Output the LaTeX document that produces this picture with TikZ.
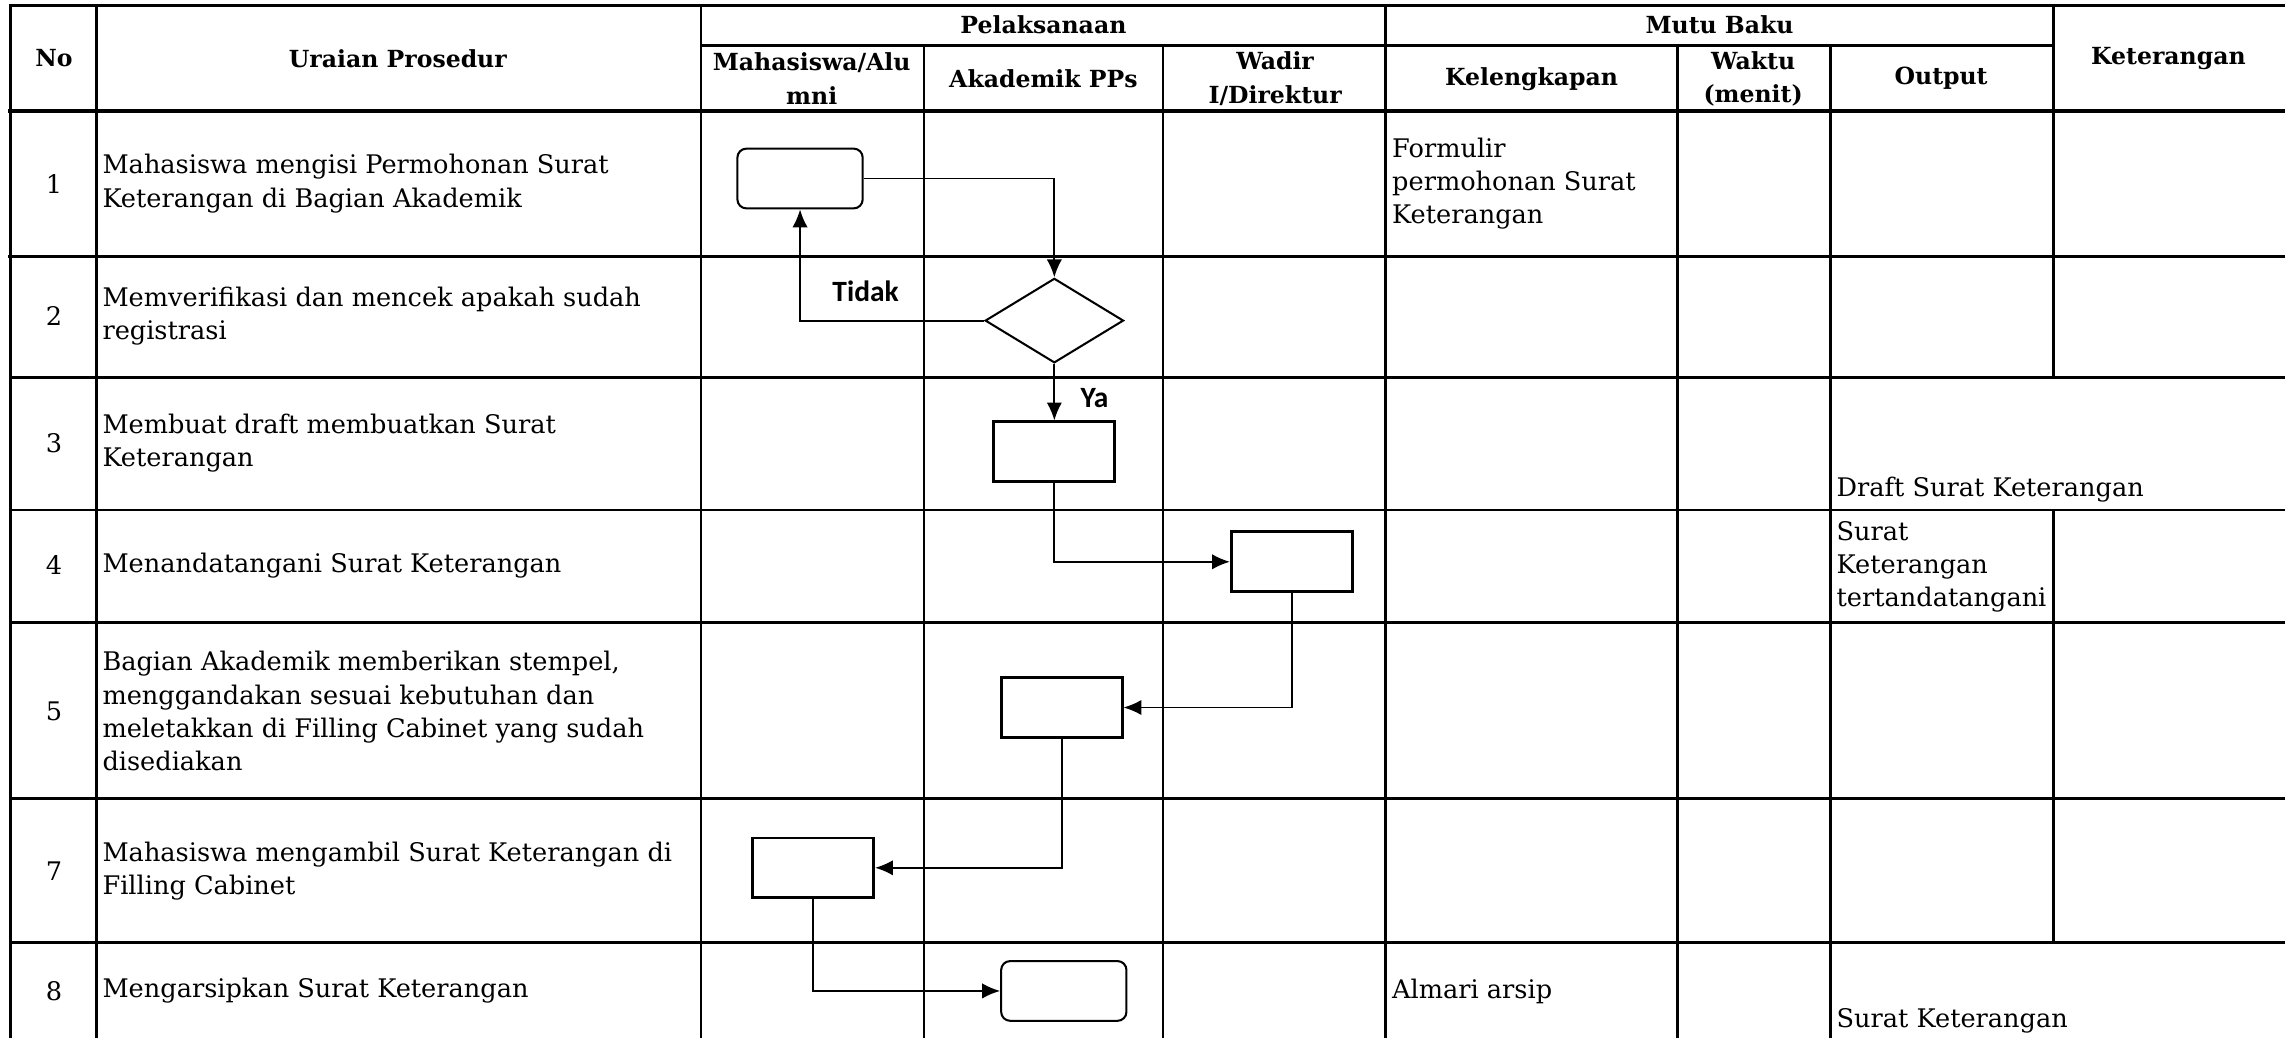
\documentclass[tikz,border=0pt]{standalone}
\usepackage{fontspec}
\setmainfont{DejaVu Serif}
\newfontfamily\labelfont{Carlito}
\usetikzlibrary{shapes.geometric,arrows.meta}

\begin{document}
\begin{tikzpicture}[x=0.02cm, y=-0.02cm,
        grid/.style={line width=1.1pt, line cap=rect},
        heavy/.style={line width=1.5pt, line cap=rect},
        head/.style={font=\fontsize{9.2}{13}\selectfont\bfseries, align=center},
        num/.style={font=\fontsize{10}{13}\selectfont},
        body/.style={font=\fontsize{10}{13}\selectfont, align=left, anchor=west, inner sep=0pt},
        proc/.style={draw, line width=1.1pt, minimum width=1.66cm, minimum height=0.82cm, inner sep=0pt},
        term/.style={proc, rounded corners=3.5pt, line width=0.8pt, minimum width=1.72cm},
        decision/.style={draw, diamond, line width=0.8pt, minimum width=1.9cm, minimum height=1.16cm, inner sep=0pt},
        flow/.style={line width=0.75pt, -{Latex[length=7pt,width=6pt]}},
        yesno/.style={font=\labelfont\bfseries\fontsize{11.5}{13}\selectfont}]
    \useasboundingbox (0,0) rectangle (1568,712);

    % Table lines
    \draw[grid] (7,4) -- (1575,4);
    \draw[grid] (481,31) -- (1409,31);
    \draw[heavy] (7,76) -- (1575,76);
    \draw[heavy] (7,176) -- (1575,176);
    \foreach \y in {259,350,427,548,647}
        \draw[grid] (7,\y) -- (1575,\y);
    \foreach \x in {7,66,481,951}
        \draw[grid] (\x,4) -- (\x,720);
    \foreach \x in {634,798,1151,1256}
        \draw[grid] (\x,31) -- (\x,720);
    \draw[grid] (1409,4) -- (1409,259) (1409,350) -- (1409,647);

    % Header
    \node[head] (hno) at (37,40) {No};
    \node[head] (huraian) at (273,40) {Uraian Prosedur};
    \node[head] (hpelaksanaan) at (716,17) {Pelaksanaan};
    \node[head] (hmhs) at (557,54) {Mahasiswa/Alu\\mni};
    \node[head] (hakd) at (716,54) {Akademik PPs};
    \node[head] (hwadir) at (875,54) {Wadir\\I/Direktur};
    \node[head] (hmutu) at (1180,17) {Mutu Baku};
    \node[head] (hkel) at (1051,54) {Kelengkapan};
    \node[head] (hwaktu) at (1203,54) {Waktu\\(menit)};
    \node[head] (hout) at (1332,54) {Output};
    \node[head] (hket) at (1488,40) {Keterangan};

    % Numbers
    \node[num] (no1) at (37,126) {1};
    \node[num] (no2) at (37,217) {2};
    \node[num] (no3) at (37,304) {3};
    \node[num] (no4) at (37,388) {4};
    \node[num] (no5) at (37,488) {5};
    \node[num] (no7) at (37,598) {7};
    \node[num] (no8) at (37,680) {8};

    % Procedure texts
    \node[body] (u1) at (70,126) {Mahasiswa mengisi Permohonan Surat\\Keterangan di Bagian Akademik};
    \node[body] (u2) at (70,217) {Memverifikasi dan mencek apakah sudah\\registrasi};
    \node[body] (u3) at (70,304) {Membuat draft membuatkan Surat\\Keterangan};
    \node[body] (u4) at (70,388) {Menandatangani Surat Keterangan};
    \node[body] (u5) at (70,488) {Bagian Akademik memberikan stempel,\\menggandakan sesuai kebutuhan dan\\meletakkan di Filling Cabinet yang sudah\\disediakan};
    \node[body] (u7) at (70,598) {Mahasiswa mengambil Surat Keterangan di\\Filling Cabinet};
    \node[body] (u8) at (70,680) {Mengarsipkan Surat Keterangan};

    % Mutu baku
    \node[body] (k1) at (955,126) {Formulir\\permohonan Surat\\Keterangan};
    \node[body] (k8) at (955,680) {Almari arsip};
    \node[body, anchor=base west] (o3) at (1260,341) {Draft Surat Keterangan};
    \node[body] (o4) at (1260,389) {Surat\\Keterangan\\tertandatangani};
    \node[body, anchor=base west] (o8) at (1260,705) {Surat Keterangan};

    % Flow shapes
    \node[term] (s1) at (549,122.5) {};
    \node[decision] (s2) at (723.5,220) {};
    \node[proc] (s3) at (723.5,310) {};
    \node[proc] (s4) at (886.5,385.5) {};
    \node[proc] (s5) at (728.5,485.5) {};
    \node[proc] (s7) at (558,595.5) {};
    \node[term] (s8) at (730,680) {};

    % Connectors
    \draw[flow] (s1.east) -| (s2.north);
    \draw[flow] (s2.west) -| (s1.south);
    \draw[flow] (s2.south) -- (s3.north);
    \draw[flow] (s3.south) |- (s4.west);
    \draw[flow] (s4.south) |- (s5.east);
    \draw[flow] (s5.south) |- (s7.east);
    \draw[flow] (s7.south) |- (s8.west);
    \node[yesno] (tidak) at (594,200) {Tidak};
    \node[yesno] (ya) at (751,273) {Ya};
\end{tikzpicture}
\end{document}
